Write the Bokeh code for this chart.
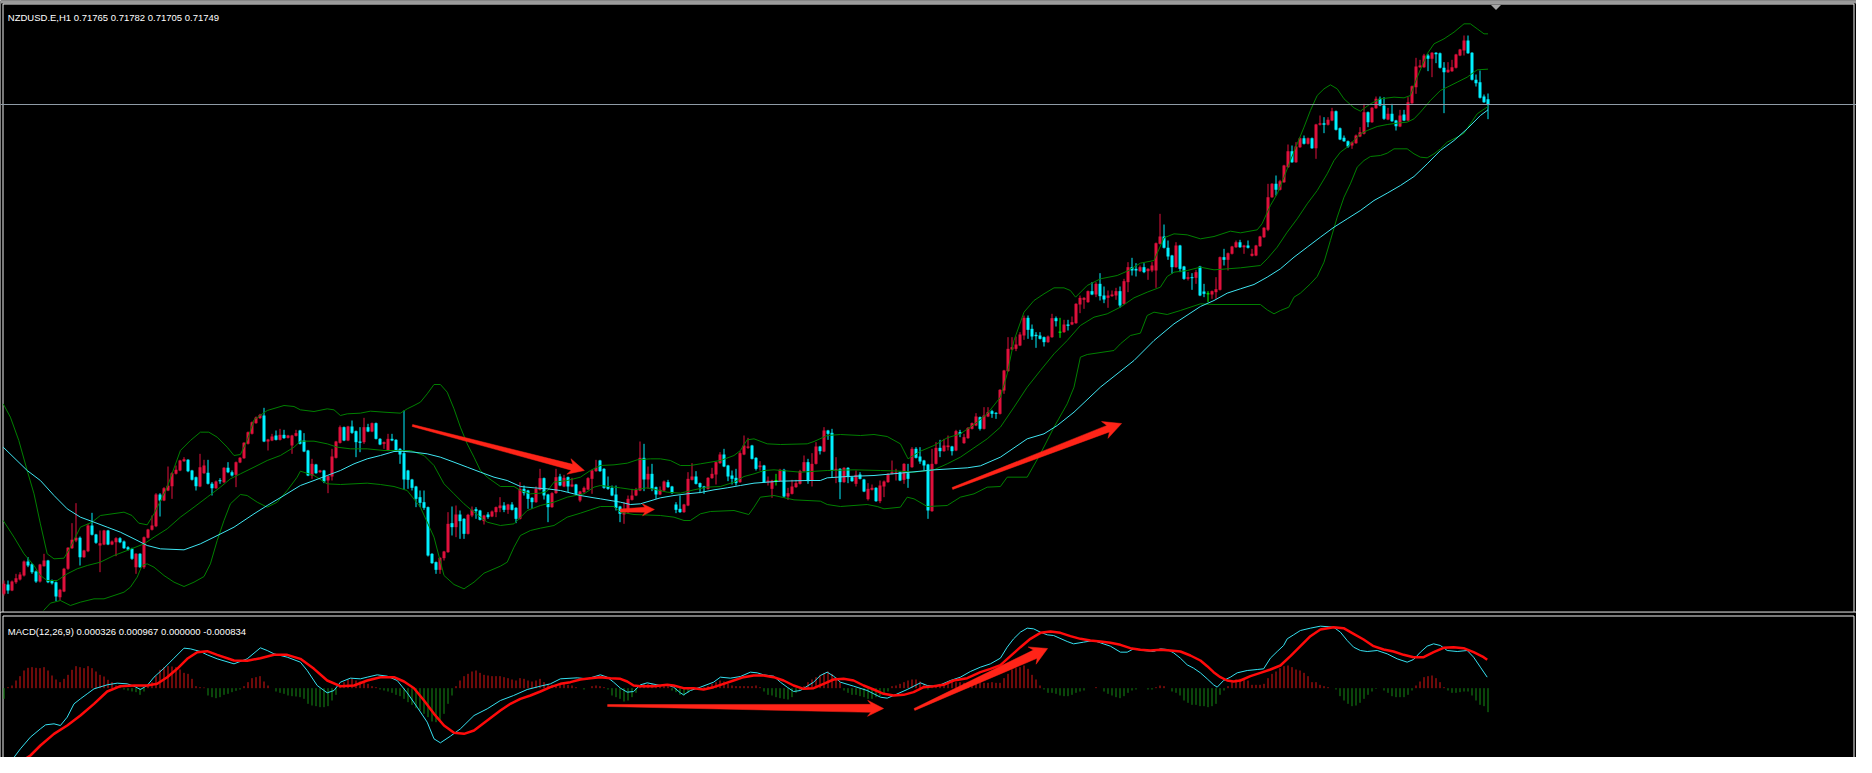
import math
from bokeh.plotting import figure
from bokeh.layouts import column
from bokeh.models import Range1d, Span, Label
from bokeh.embed import file_html
from bokeh.resources import INLINE

# ---------------------------------------------------------------- texts
SYMBOL_LABEL = "NZDUSD.E,H1  0.71765 0.71782 0.71705 0.71749"
MACD_LABEL = "MACD(12,26,9) 0.000326 0.000967 0.000000 -0.000834"

# ---------------------------------------------------------------- candles (prices in points, 1 point = 0.00001)
POINT = 0.00001
open_pts = [
    70281, 70309, 70291, 70316, 70324, 70336, 70378, 70370, 70348, 70318,
    70364, 70381, 70321, 70316, 70271, 70288, 70356, 70418, 70441, 70449,
    70391, 70409, 70486, 70459, 70426, 70429, 70471, 70429, 70436, 70448,
    70438, 70421, 70416, 70361, 70401, 70361, 70449, 70473, 70484, 70579,
    70561, 70591, 70604, 70641, 70651, 70679, 70683, 70651, 70631, 70603,
    70643, 70644, 70611, 70598, 70621, 70616, 70659, 70646, 70638, 70675,
    70688, 70731, 70761, 70793, 70808, 70816, 70738, 70741, 70756, 70743,
    70758, 70749, 70726, 70755, 70771,
    70741, 70711, 70636, 70669, 70646, 70651, 70621, 70633, 70689, 70734,
    70781, 70741, 70783, 70769, 70738, 70736, 70781, 70768, 70793, 70746,
    70731, 70711, 70746, 70743, 70716, 70703, 70651, 70624, 70603, 70571,
    70556, 70541, 70401, 70376, 70353, 70388, 70406, 70493, 70481, 70519,
    70506, 70461, 70516, 70535, 70531, 70499, 70519, 70513, 70526, 70538,
    70546, 70533, 70549, 70539, 70506, 70596, 70591, 70569, 70556, 70593,
    70628, 70579, 70541, 70583, 70633, 70603, 70631, 70603, 70609, 70561,
    70586, 70594, 70626, 70649, 70681,
    70656, 70603, 70599, 70579, 70543, 70519, 70526, 70563, 70576, 70591,
    70689, 70624, 70641, 70601, 70579, 70591, 70616, 70603, 70549, 70536,
    70526, 70546, 70623, 70633, 70613, 70603, 70596, 70628, 70639, 70673,
    70699, 70666, 70636, 70629, 70616, 70699, 70719, 70726, 70689, 70661,
    70666, 70616, 70596, 70621, 70619, 70653, 70573, 70581, 70601, 70611,
    70649, 70676, 70621, 70671, 70723, 70708, 70771, 70764, 70651, 70656,
    70616, 70659, 70631, 70611, 70639, 70624, 70565, 70593, 70599, 70559,
    70603, 70616, 70641, 70641, 70646,
    70623, 70643, 70661, 70716, 70693, 70681, 70669, 70529, 70671, 70719,
    70709, 70721, 70723, 70711, 70766, 70733, 70748, 70776, 70786, 70811,
    70776, 70813, 70829, 70824, 70821, 70891, 70949, 71014, 71016, 71026,
    71056, 71109, 71076, 71058, 71056, 71051, 71036, 71051, 71108, 71066,
    71066, 71089, 71089, 71093, 71149, 71163, 71156, 71189, 71179, 71211,
    71176, 71169, 71174, 71176, 71189, 71151, 71216, 71261, 71256, 71249,
    71261, 71249, 71251, 71251, 71331, 71353, 71319, 71296, 71261, 71326,
    71263, 71226, 71231, 71229, 71263,
    71188, 71181, 71179, 71186, 71193, 71291, 71283, 71301, 71321, 71336,
    71321, 71326, 71295, 71296, 71324, 71351, 71373, 71471, 71511, 71493,
    71516, 71561, 71609, 71576, 71621, 71648, 71631, 71648, 71618, 71688,
    71693, 71688, 71701, 71729, 71678, 71649, 71639, 71626, 71633, 71653,
    71661, 71726, 71696, 71738, 71766, 71746, 71704, 71721, 71701, 71683,
    71719, 71701, 71753, 71801, 71861, 71861, 71896, 71886, 71904, 71903,
    71859, 71846, 71849, 71859, 71896, 71911, 71941, 71904, 71823, 71816,
    71773, 71765,
]
high_pts = [
    70321, 70321, 70321, 70341, 70346, 70381, 70391, 70373, 70351, 70371,
    70401, 70383, 70324, 70318, 70296, 70359, 70421, 70493, 70553, 70453,
    70413, 70491, 70524, 70461, 70471, 70473, 70473, 70441, 70451, 70451,
    70441, 70424, 70419, 70403, 70403, 70453, 70476, 70516, 70583, 70583,
    70601, 70663, 70646, 70666, 70683, 70691, 70685, 70653, 70633, 70701,
    70683, 70683, 70616, 70621, 70628, 70661, 70676, 70651, 70678, 70691,
    70736, 70768, 70798, 70813, 70821, 70839, 70746, 70761, 70771, 70776,
    70773, 70758, 70758, 70773, 70773,
    70763, 70713, 70686, 70671, 70653, 70653, 70636, 70716, 70740, 70786,
    70783, 70785, 70801, 70771, 70781, 70809, 70791, 70795, 70795, 70748,
    70738, 70761, 70761, 70745, 70718, 70831, 70653, 70626, 70605, 70591,
    70591, 70543, 70403, 70378, 70391, 70410, 70526, 70543, 70546, 70531,
    70508, 70521, 70543, 70541, 70533, 70518, 70526, 70531, 70543, 70571,
    70556, 70551, 70556, 70541, 70616, 70606, 70593, 70571, 70603, 70656,
    70630, 70581, 70586, 70656, 70641, 70638, 70633, 70629, 70611, 70590,
    70603, 70631, 70653, 70683, 70683,
    70658, 70633, 70606, 70606, 70545, 70556, 70576, 70596, 70599, 70738,
    70731, 70663, 70671, 70603, 70603, 70621, 70623, 70605, 70556, 70576,
    70551, 70646, 70673, 70649, 70615, 70605, 70631, 70659, 70678, 70706,
    70716, 70668, 70651, 70656, 70709, 70756, 70749, 70728, 70691, 70679,
    70668, 70633, 70623, 70641, 70656, 70656, 70599, 70623, 70623, 70653,
    70696, 70686, 70703, 70736, 70725, 70781, 70773, 70776, 70691, 70658,
    70661, 70661, 70633, 70651, 70646, 70626, 70613, 70609, 70601, 70621,
    70621, 70643, 70681, 70656, 70648,
    70673, 70671, 70721, 70721, 70721, 70683, 70671, 70716, 70736, 70743,
    70746, 70756, 70725, 70773, 70773, 70761, 70781, 70795, 70823, 70813,
    70841, 70841, 70833, 70826, 70895, 70953, 71051, 71051, 71053, 71066,
    71116, 71116, 71089, 71066, 71066, 71053, 71056, 71121, 71113, 71109,
    71103, 71103, 71113, 71153, 71176, 71171, 71191, 71216, 71216, 71243,
    71203, 71191, 71191, 71199, 71203, 71226, 71276, 71289, 71273, 71266,
    71273, 71258, 71276, 71335, 71421, 71389, 71341, 71298, 71336, 71328,
    71265, 71246, 71243, 71253, 71265,
    71211, 71189, 71191, 71231, 71293, 71316, 71305, 71325, 71341, 71343,
    71328, 71341, 71316, 71328, 71355, 71381, 71511, 71513, 71536, 71523,
    71568, 71629, 71626, 71636, 71650, 71656, 71650, 71650, 71691, 71716,
    71711, 71711, 71739, 71731, 71680, 71656, 71641, 71638, 71659, 71681,
    71751, 71728, 71741, 71773, 71773, 71771, 71739, 71751, 71703, 71733,
    71733, 71771, 71806, 71889, 71883, 71901, 71901, 71906, 71906, 71905,
    71876, 71876, 71883, 71901, 71916, 71956, 71956, 71906, 71839, 71851,
    71779, 71782,
]
low_pts = [
    70276, 70281, 70289, 70311, 70321, 70333, 70361, 70341, 70314, 70315,
    70363, 70313, 70309, 70259, 70261, 70286, 70353, 70416, 70436, 70366,
    70389, 70406, 70456, 70431, 70346, 70427, 70427, 70427, 70394, 70433,
    70416, 70411, 70383, 70341, 70359, 70356, 70447, 70471, 70481, 70513,
    70559, 70589, 70566, 70639, 70649, 70677, 70646, 70621, 70591, 70601,
    70641, 70609, 70576, 70596, 70611, 70613, 70643, 70633, 70601, 70673,
    70686, 70729, 70759, 70791, 70806, 70736, 70711, 70739, 70741, 70741,
    70746, 70747, 70701, 70753, 70729,
    70706, 70634, 70626, 70641, 70644, 70613, 70583, 70621, 70687, 70732,
    70739, 70739, 70761, 70691, 70706, 70731, 70766, 70766, 70744, 70727,
    70716, 70709, 70739, 70707, 70671, 70593, 70596, 70591, 70541, 70541,
    70533, 70393, 70371, 70341, 70341, 70381, 70404, 70456, 70451, 70446,
    70446, 70459, 70511, 70506, 70501, 70489, 70506, 70511, 70511, 70526,
    70526, 70521, 70531, 70493, 70504, 70576, 70536, 70536, 70554, 70591,
    70564, 70496, 70539, 70581, 70604, 70601, 70586, 70601, 70579, 70556,
    70584, 70592, 70581, 70647, 70647,
    70596, 70593, 70574, 70531, 70496, 70491, 70524, 70561, 70574, 70589,
    70589, 70596, 70589, 70566, 70577, 70589, 70599, 70581, 70523, 70524,
    70524, 70544, 70621, 70609, 70583, 70581, 70594, 70626, 70609, 70671,
    70661, 70619, 70609, 70606, 70614, 70697, 70716, 70684, 70651, 70651,
    70614, 70606, 70569, 70606, 70617, 70569, 70563, 70579, 70599, 70609,
    70647, 70611, 70603, 70669, 70699, 70706, 70743, 70629, 70613, 70565,
    70614, 70613, 70617, 70603, 70624, 70586, 70561, 70591, 70557, 70553,
    70571, 70614, 70639, 70621, 70619,
    70611, 70599, 70659, 70687, 70671, 70651, 70506, 70527, 70669, 70691,
    70707, 70711, 70696, 70709, 70751, 70731, 70746, 70774, 70784, 70771,
    70774, 70811, 70809, 70806, 70819, 70881, 70947, 71012, 71009, 71024,
    71043, 71046, 71043, 71019, 71044, 71023, 71034, 71049, 71083, 71049,
    71064, 71071, 71087, 71091, 71123, 71136, 71154, 71177, 71171, 71161,
    71153, 71139, 71172, 71163, 71139, 71149, 71186, 71236, 71233, 71247,
    71243, 71223, 71246, 71199, 71329, 71317, 71283, 71241, 71259, 71246,
    71223, 71221, 71193, 71211, 71174,
    71171, 71156, 71166, 71166, 71191, 71266, 71251, 71299, 71319, 71319,
    71301, 71317, 71293, 71294, 71322, 71349, 71369, 71469, 71476, 71491,
    71514, 71559, 71574, 71574, 71619, 71629, 71629, 71616, 71586, 71686,
    71663, 71686, 71699, 71671, 71642, 71637, 71619, 71616, 71631, 71651,
    71659, 71681, 71694, 71736, 71744, 71703, 71702, 71697, 71671, 71681,
    71699, 71699, 71751, 71781, 71859, 71859, 71849, 71831, 71873, 71857,
    71723, 71844, 71847, 71857, 71894, 71896, 71901, 71821, 71803, 71767,
    71754, 71705,
]
close_pts = [
    70311, 70291, 70318, 70328, 70339, 70378, 70366, 70346, 70318, 70369,
    70381, 70316, 70313, 70273, 70293, 70356, 70419, 70443, 70449, 70391,
    70411, 70486, 70458, 70434, 70433, 70471, 70429, 70438, 70448, 70436,
    70418, 70414, 70386, 70401, 70361, 70451, 70474, 70486, 70579, 70561,
    70598, 70605, 70643, 70653, 70681, 70685, 70649, 70623, 70604, 70661,
    70666, 70611, 70598, 70618, 70620, 70659, 70646, 70636, 70676, 70689,
    70734, 70766, 70796, 70810, 70818, 70738, 70744, 70753, 70743, 70758,
    70748, 70756, 70756, 70763, 70731,
    70708, 70636, 70671, 70643, 70651, 70618, 70634, 70693, 70738, 70781,
    70741, 70783, 70764, 70736, 70734, 70781, 70768, 70793, 70746, 70729,
    70736, 70746, 70741, 70709, 70699, 70624, 70623, 70599, 70566, 70554,
    70539, 70396, 70373, 70353, 70389, 70408, 70491, 70481, 70519, 70499,
    70461, 70518, 70533, 70529, 70503, 70516, 70511, 70528, 70541, 70546,
    70533, 70549, 70533, 70506, 70596, 70583, 70566, 70556, 70596, 70628,
    70576, 70541, 70583, 70631, 70606, 70629, 70603, 70609, 70581, 70588,
    70599, 70628, 70651, 70659, 70649,
    70599, 70596, 70576, 70539, 70521, 70526, 70566, 70576, 70593, 70689,
    70624, 70641, 70596, 70579, 70593, 70618, 70601, 70583, 70533, 70526,
    70549, 70626, 70633, 70611, 70601, 70599, 70629, 70641, 70676, 70699,
    70663, 70633, 70626, 70613, 70703, 70726, 70723, 70686, 70656, 70666,
    70616, 70621, 70621, 70621, 70653, 70573, 70583, 70603, 70613, 70649,
    70676, 70619, 70671, 70723, 70709, 70771, 70761, 70651, 70656, 70616,
    70659, 70631, 70619, 70638, 70626, 70588, 70596, 70599, 70559, 70606,
    70618, 70641, 70646, 70645, 70621,
    70671, 70626, 70716, 70689, 70678, 70666, 70531, 70671, 70719, 70709,
    70726, 70726, 70709, 70769, 70761, 70751, 70779, 70793, 70813, 70776,
    70816, 70826, 70821, 70821, 70893, 70951, 71016, 71021, 71029, 71059,
    71109, 71073, 71053, 71054, 71046, 71036, 71053, 71108, 71099, 71066,
    71089, 71085, 71096, 71151, 71169, 71169, 71189, 71179, 71211, 71174,
    71164, 71176, 71179, 71189, 71146, 71219, 71261, 71251, 71251, 71261,
    71246, 71256, 71266, 71333, 71353, 71319, 71293, 71261, 71326, 71256,
    71226, 71231, 71228, 71246, 71176,
    71181, 71181, 71189, 71195, 71291, 71283, 71303, 71323, 71336, 71321,
    71326, 71319, 71301, 71326, 71353, 71379, 71471, 71511, 71493, 71519,
    71566, 71609, 71576, 71623, 71648, 71631, 71648, 71618, 71689, 71693,
    71688, 71703, 71729, 71673, 71644, 71639, 71623, 71636, 71656, 71666,
    71726, 71696, 71739, 71766, 71746, 71706, 71721, 71699, 71684, 71716,
    71701, 71756, 71804, 71863, 71866, 71896, 71886, 71904, 71900, 71859,
    71846, 71853, 71861, 71899, 71914, 71941, 71903, 71823, 71813, 71769,
    71756, 71749,
]

# ---------------------------------------------------------------- Bollinger bands and moving average (bar index, points)
bb_upper = [
    (-0.2, 70851), (1.6, 70811), (3.7, 70741), (5.8, 70651), (7.5, 70581), (9.1, 70491), (10.8, 70401),
    (12.5, 70386), (15.0, 70388), (16.6, 70421), (19.1, 70481), (22.0, 70496), (24.1, 70516), (30.0, 70526),
    (32.0, 70516), (33.7, 70493), (35.8, 70488), (37.5, 70521), (40.8, 70601), (44.1, 70711), (46.6, 70741),
    (49.1, 70766), (51.2, 70766), (53.3, 70751), (55.8, 70721), (57.5, 70696), (59.1, 70699), (60.8, 70741),
    (62.5, 70803), (65.8, 70831), (70.0, 70846), (72.5, 70843),
    (74.1, 70833), (77.5, 70828), (80.8, 70836), (82.5, 70833), (84.1, 70816), (85.8, 70821), (89.1, 70823),
    (91.6, 70829), (95.0, 70826), (99.1, 70823), (100.8, 70836), (102.5, 70846), (104.1, 70856), (105.8, 70881),
    (107.5, 70909), (109.1, 70909), (110.8, 70886), (112.5, 70836), (114.1, 70781), (115.8, 70731), (117.5, 70691),
    (119.1, 70651), (120.8, 70631), (124.1, 70603), (127.5, 70603), (129.1, 70591), (131.6, 70581), (134.1, 70583),
    (135.8, 70589), (137.5, 70616), (140.8, 70621), (144.1, 70631), (146.6, 70651),
    (149.1, 70666), (152.5, 70668), (155.8, 70673), (158.3, 70683), (161.6, 70686), (164.1, 70686), (166.6, 70681),
    (169.1, 70666), (171.6, 70666), (174.1, 70671), (179.1, 70681), (182.5, 70696), (184.1, 70711), (185.8, 70743),
    (187.5, 70746), (190.8, 70731), (194.1, 70729), (200.8, 70731), (202.5, 70738), (205.8, 70756), (209.1, 70759),
    (214.1, 70756), (217.5, 70759), (220.8, 70753),
    (224.1, 70731), (226.0, 70686), (229.1, 70709), (232.5, 70726), (235.8, 70749), (239.1, 70761), (242.5, 70789),
    (245.8, 70821), (249.1, 70871), (250.8, 70941), (252.5, 71041), (255.0, 71126), (257.5, 71161), (260.0, 71181),
    (262.5, 71199), (265.0, 71199), (266.6, 71191), (267.9, 71171), (270.8, 71206), (274.1, 71226), (278.3, 71236),
    (280.8, 71249), (284.1, 71273), (287.5, 71281), (290.0, 71349), (292.5, 71361), (295.8, 71358),
    (299.1, 71346), (302.5, 71353), (306.6, 71369), (309.1, 71364), (313.3, 71373), (314.5, 71391), (316.6, 71446),
    (318.3, 71481), (320.0, 71531), (321.6, 71581), (323.3, 71631), (325.0, 71681), (326.6, 71731), (328.3, 71776),
    (330.0, 71796), (331.6, 71808), (333.3, 71796), (335.0, 71766), (337.5, 71739), (339.1, 71729), (341.6, 71751),
    (344.1, 71766), (347.5, 71771), (350.0, 71769), (351.6, 71776), (353.3, 71831), (355.8, 71901), (357.5, 71931),
    (360.0, 71946), (362.5, 71966), (365.0, 71991), (366.6, 71991), (368.3, 71976), (370.0, 71961), (371.0, 71961),
]
bb_middle = [
    (-0.2, 70501), (2.5, 70451), (5.0, 70401), (7.5, 70366), (9.1, 70336), (10.8, 70321), (13.3, 70321),
    (15.8, 70341), (18.3, 70356), (20.8, 70366), (24.1, 70376), (27.5, 70396), (30.8, 70411), (35.0, 70431),
    (37.5, 70451), (40.8, 70476), (44.1, 70511), (47.5, 70541), (50.8, 70571), (54.1, 70601), (56.6, 70626),
    (59.1, 70641), (62.5, 70661), (65.8, 70681), (69.1, 70696), (72.5, 70721),
    (74.1, 70739), (77.5, 70739), (80.8, 70731), (83.3, 70721), (86.6, 70716), (90.8, 70716), (95.0, 70711),
    (101.6, 70711), (105.0, 70696), (107.5, 70666), (110.0, 70611), (112.5, 70581), (115.0, 70551), (117.5, 70526),
    (120.8, 70496), (124.1, 70486), (127.5, 70491), (130.8, 70531), (134.1, 70546), (137.5, 70556), (140.8, 70571),
    (145.0, 70581), (147.5, 70601),
    (149.1, 70606), (154.1, 70599), (157.5, 70593), (160.8, 70599), (165.8, 70586), (169.1, 70583), (172.5, 70593),
    (175.8, 70601), (179.1, 70603), (182.5, 70616), (185.0, 70633), (187.5, 70641), (190.0, 70651), (192.5, 70653),
    (199.1, 70646), (205.8, 70651), (212.5, 70653), (219.1, 70651),
    (224.1, 70649), (227.5, 70646), (232.5, 70653), (235.8, 70671), (239.1, 70691), (242.5, 70719), (245.8, 70746),
    (249.1, 70781), (252.5, 70841), (255.8, 70901), (259.1, 70951), (262.5, 71001), (265.8, 71041), (269.1, 71086),
    (272.5, 71111), (275.8, 71121), (279.1, 71141), (282.5, 71169), (285.8, 71186), (289.1, 71201), (290.8, 71233),
    (292.5, 71246), (295.8, 71251),
    (299.1, 71261), (302.5, 71253), (309.1, 71259), (314.1, 71266), (315.8, 71286), (318.3, 71321), (320.8, 71366),
    (323.3, 71406), (325.8, 71451), (328.3, 71491), (330.8, 71541), (332.5, 71581), (334.1, 71606), (335.8, 71621),
    (337.5, 71641), (339.1, 71661), (340.8, 71671), (343.3, 71683), (345.8, 71689), (348.3, 71693), (350.8, 71696),
    (352.5, 71706), (354.1, 71726), (356.6, 71761), (359.1, 71791), (360.8, 71801), (363.3, 71816), (365.8, 71831),
    (368.3, 71853), (371.0, 71855),
]
bb_lower = [
    (9.9, 70231), (11.6, 70253), (14.1, 70261), (16.6, 70246), (19.1, 70256), (22.5, 70266), (25.0, 70266),
    (27.5, 70276), (30.0, 70286), (31.6, 70301), (33.3, 70331), (34.5, 70366), (35.8, 70371), (37.5, 70361),
    (40.0, 70336), (42.5, 70316), (45.0, 70303), (47.5, 70316), (50.0, 70333), (51.6, 70371), (53.3, 70441),
    (55.0, 70501), (56.6, 70551), (59.1, 70579), (60.8, 70576), (63.3, 70556), (65.8, 70541), (68.3, 70556),
    (70.8, 70591), (73.3, 70631),
    (74.1, 70649), (77.5, 70636), (80.8, 70611), (84.1, 70609), (90.8, 70613), (94.1, 70609), (97.5, 70603),
    (100.8, 70591), (104.1, 70541), (107.5, 70451), (110.0, 70336), (112.5, 70309), (115.0, 70296), (117.5, 70316),
    (120.0, 70343), (124.1, 70364), (125.8, 70376), (127.5, 70421), (129.1, 70456), (131.6, 70471), (134.1, 70478),
    (137.5, 70486), (140.8, 70511), (144.1, 70523), (146.6, 70533),
    (149.1, 70543), (152.5, 70543), (154.1, 70526), (157.5, 70519), (164.1, 70516), (167.5, 70511), (170.0, 70501),
    (171.6, 70501), (174.1, 70521), (176.6, 70528), (182.5, 70531), (186.2, 70519), (187.5, 70541), (189.1, 70571),
    (192.5, 70576), (197.5, 70563), (204.1, 70559), (205.8, 70549), (209.1, 70543), (215.8, 70549), (218.3, 70543),
    (220.0, 70536),
    (224.1, 70541), (225.8, 70571), (227.5, 70566), (230.8, 70543), (235.8, 70546), (239.1, 70571), (242.5, 70581),
    (245.8, 70601), (249.1, 70603), (250.8, 70631), (255.8, 70631), (259.1, 70701), (262.5, 70781), (265.8, 70851),
    (267.5, 70901), (269.1, 70991), (270.8, 70999), (277.5, 71011), (279.1, 71031), (281.6, 71056), (284.1, 71063),
    (285.8, 71116), (287.5, 71126), (290.8, 71119), (294.1, 71131),
    (299.1, 71151), (302.5, 71149), (314.1, 71149), (315.8, 71133), (317.5, 71121), (319.1, 71131), (321.2, 71141),
    (322.5, 71171), (324.1, 71183), (326.6, 71211), (328.3, 71233), (330.0, 71276), (331.6, 71341), (333.3, 71411),
    (335.0, 71471), (336.6, 71511), (338.3, 71561), (340.0, 71581), (341.6, 71593), (344.1, 71596), (345.8, 71603),
    (347.5, 71616), (350.8, 71616), (352.5, 71601), (354.1, 71591), (355.8, 71589), (357.5, 71601), (359.1, 71616),
    (360.8, 71636), (363.3, 71651), (365.0, 71663), (366.6, 71691), (368.3, 71721), (371.0, 71743),
]
ma_line = [
    (-0.2, 70721), (5.8, 70651), (9.1, 70621), (12.5, 70576), (15.8, 70536), (19.1, 70511), (22.5, 70496),
    (25.8, 70481), (29.1, 70466), (32.5, 70446), (35.8, 70426), (39.1, 70416), (45.0, 70413), (49.1, 70431),
    (52.5, 70451), (57.5, 70481), (62.5, 70521), (65.8, 70546), (70.0, 70576),
    (74.1, 70606), (77.5, 70621), (80.8, 70636), (84.1, 70651), (87.5, 70671), (90.8, 70686), (94.1, 70696),
    (97.5, 70708), (99.1, 70709), (102.5, 70706), (105.8, 70701), (109.1, 70691), (112.5, 70676), (115.8, 70661),
    (119.1, 70646), (122.5, 70631), (125.8, 70621), (129.1, 70603), (132.5, 70599), (135.8, 70596), (139.1, 70591),
    (140.8, 70586), (144.1, 70576), (147.5, 70569),
    (149.1, 70566), (154.1, 70556), (156.6, 70549), (159.1, 70551), (164.1, 70569), (167.5, 70576), (170.8, 70581),
    (174.1, 70585), (177.5, 70593), (180.8, 70599), (184.1, 70606), (187.5, 70613), (190.8, 70616), (194.1, 70619),
    (200.8, 70621), (204.1, 70621), (205.8, 70629), (210.8, 70633), (217.5, 70636),
    (224.1, 70643), (232.5, 70653), (240.8, 70659), (244.1, 70665), (249.1, 70691), (255.8, 70746), (260.0, 70761),
    (263.3, 70786), (267.5, 70826), (274.1, 70901), (282.5, 70981), (287.5, 71041), (292.5, 71091),
    (299.1, 71143), (302.5, 71161), (305.8, 71183), (309.1, 71196), (312.5, 71209), (315.8, 71231), (319.1, 71256),
    (322.5, 71291), (325.8, 71321), (329.1, 71351), (332.5, 71381), (335.8, 71406), (339.1, 71431), (342.5, 71461),
    (345.8, 71483), (349.1, 71506), (352.5, 71533), (355.8, 71571), (359.1, 71611), (362.5, 71641), (365.8, 71676),
    (369.1, 71716), (371.0, 71733),
]

# ---------------------------------------------------------------- MACD (values in units of 0.00001)
MACD_UNIT = 0.00001
macd_hist = [
    -32, 3, 8, 23, 36, 53, 61, 63, 61, 60,
    63, 53, 38, 26, 18, 28, 40, 55, 66, 63,
    60, 66, 60, 50, 40, 35, 25, 18, 8, 6,
    -4, -7, -10, -12, -20, -10, 6, 18, 36, 55,
    63, 66, 65, 63, 56, 46, 43, 28, 6, 3,
    2, -22, -27, -30, -27, -20, -17, -12, -8, -4,
    6, 18, 30, 33, 36, 20, 8, 0, -10, -14,
    -17, -22, -24, -25, -27, -32, -47, -52, -54, -57,
    -57, -54, -37, -20, 8, 18, 26, 28, 23, 20,
    18, 13, 6, 3, -4, -7, -10, -14, -20, -24,
    -32, -42, -50, -60, -67, -77, -87, -100, -102, -97,
    -77, -47, -22, 6, 23, 36, 43, 50, 53, 46,
    40, 38, 36, 36, 36,
    33, 30, 26, 23, 30, 28, 23, 20, 23, 28,
    18, 13, 10, 10, 13, 13, 10, 8, 3, 0,
    -4, 0, 6, 8, 6, 3, -4, -22, -27, -32,
    -40, -37, -27, -14, 8, 13, 13, 13, 8, 6,
    6, 6, -7, -12, -20, -22, -14, -7, 0, 0,
    3, 6, 13, 18, 23, 20, 13, 8, 6, 6,
    6, 6, 6, 8, 3, -10, -20, -22, -27, -30,
    -32, -34, -27, -14, -7, 6, 18, 26, 33, 40,
    46, 50, 43, 33, 18, -7, -14, -20, -20, -24,
    -27, -32, -32, -27, -24, -20, -10, 6, 8, 13,
    18, 23, 26, 26, 20, 13, -4, 6, 8, 13,
    16, 18, 20, 18, 18, 16, 18, 18, 18, 18,
    16, 16, 18, 16, 16,
    30, 43, 56, 60, 63, 68, 58, 40, 26, 8,
    -4, -14, -14, -17, -22, -24, -24, -20, -14, -10,
    -7, 0, 0, 3, 0, -10, -17, -22, -27, -30,
    -24, -14, -7, -4, 0, 0, -4, -4, 3, 8,
    6, 0, -10, -14, -22, -37, -44, -50, -50, -54,
    -54, -57, -54, -47, -20, -7, 6, 18, 26, 28,
    28, 23, 10, 10, 10, 13, 30, 43, 50, 60,
    66, 68, 63, 56, 53, 46, 36, 18, 18, 10,
    6, 3, 0, -4, -24, -37, -47, -54, -52, -44,
    -32, -20, -10, -2, 0, -7, -14, -24, -27, -27,
    -27, -20, -7, 8, 20, 33, 36, 38, 30, 18,
    3, -7, -14, -14, -12, -10, -10, -22, -37, -50,
    -54, -72,
]
macd_main = [
    (-0.2, -237), (1.6, -222), (4.1, -182), (6.6, -147), (9.1, -122), (10.4, -110), (12.5, -107), (14.1, -112),
    (15.8, -87), (17.5, -47), (19.1, -32), (20.8, -17), (22.5, -2), (25.8, 10), (28.3, 15), (30.8, 13),
    (32.5, 6), (34.1, -4), (35.8, 8), (37.5, 33), (40.0, 60), (42.5, 90), (45.0, 120), (46.6, 118),
    (49.1, 110), (50.8, 100), (53.3, 88), (57.5, 73), (60.8, 88), (64.1, 121), (65.8, 113), (67.5, 103),
    (70.8, 93), (74.1, 78), (75.8, 53), (78.3, 8), (80.8, -14), (82.5, -7), (84.1, 18), (86.6, 30),
    (89.1, 28), (90.8, 33), (93.3, 40), (95.8, 36), (98.3, 23), (100.8, -14), (103.3, -57), (105.8, -102),
    (107.5, -152), (109.1, -164), (111.6, -144), (114.1, -122), (117.5, -82), (120.8, -62), (124.1, -37),
    (127.4, -22), (130.8, -4), (134.1, 6), (136.6, 13), (139.1, 28), (143.3, 31), (145.8, 28), (149.1, 40),
    (150.8, 33), (152.4, 18), (154.1, 0), (155.8, -12), (157.4, -10), (159.1, 10), (160.8, 16), (164.1, 8),
    (165.8, 10), (167.4, 3), (169.1, -14), (169.9, -20), (171.6, -7), (174.1, 3), (177.4, 18), (179.1, 33),
    (181.6, 30), (184.1, 35), (186.6, 48), (188.3, 46), (189.9, 40), (192.4, 36), (194.1, 18), (195.8, 3),
    (197.4, -10), (199.1, -7), (200.8, 6), (202.4, 18), (204.1, 38), (205.8, 48), (207.4, 36), (209.1, 18),
    (212.4, 6), (215.8, -7), (219.1, -27), (220.8, -30), (222.4, -22), (225.8, -4), (229.1, 16), (230.8, 8),
    (232.4, 6), (234.1, 10), (236.6, 23), (239.1, 33), (241.6, 50), (244.1, 63), (246.6, 73),
    (249.1, 90), (250.8, 123), (252.4, 148), (254.1, 168), (255.8, 180), (257.4, 178), (259.1, 168), (260.8, 160),
    (262.4, 158), (265.8, 140), (267.4, 133), (269.9, 138), (272.4, 143), (274.1, 136), (276.6, 126), (279.1, 108),
    (280.8, 108), (282.4, 118), (284.9, 113), (287.4, 110), (289.1, 118), (290.8, 116), (292.4, 106), (294.1, 90),
    (295.8, 70), (297.4, 60), (299.1, 46), (300.8, 28), (302.4, 10), (303.3, 3), (304.9, 23), (306.6, 33),
    (308.3, 46), (310.8, 53), (313.3, 56), (314.9, 58), (316.6, 90), (318.3, 110), (319.9, 128), (320.8, 148),
    (322.4, 160), (324.1, 173), (326.6, 180), (329.1, 186), (332.4, 183), (334.1, 168), (335.8, 143), (337.4, 123),
    (339.1, 113), (340.8, 110), (343.3, 113), (345.8, 103), (348.3, 88), (350.8, 78), (352.4, 86), (354.1, 108),
    (355.8, 126), (357.4, 133), (359.1, 128), (360.8, 113), (363.3, 110), (365.8, 113), (367.4, 93), (369.1, 63),
    (370.8, 33),
]
macd_signal = [
    (-0.2, -210), (1.6, -225), (4.1, -222), (6.6, -202), (9.1, -172), (12.5, -137), (15.8, -112), (19.1, -82),
    (22.5, -47), (25.8, -10), (29.1, 6), (32.5, 8), (35.8, 8), (38.3, 13), (40.8, 33), (43.3, 58),
    (45.8, 88), (48.3, 108), (50.8, 111), (53.3, 100), (57.5, 83), (60.8, 82), (64.1, 90), (67.5, 100),
    (70.8, 100), (74.1, 88), (77.5, 58), (80.8, 23), (84.1, 6), (87.5, 8), (90.8, 23), (94.1, 33),
    (97.5, 33), (100.0, 20), (102.5, 0), (105.0, -37), (107.5, -77), (110.0, -112), (112.5, -134), (115.0, -137),
    (117.5, -127), (120.8, -97), (124.1, -67),
    (126.6, -47), (129.1, -32), (131.6, -22), (134.1, -10), (136.6, 3), (139.1, 13), (141.6, 18), (144.1, 26),
    (146.6, 30), (149.1, 33), (151.6, 30), (154.1, 28), (155.8, 20), (157.4, 8), (159.1, 6), (162.4, 6),
    (165.8, 10), (167.4, 8), (169.9, 0), (172.4, 0), (174.9, -4), (177.4, 3), (179.9, 13), (182.4, 23),
    (184.9, 33), (187.4, 38), (189.9, 38), (192.4, 33), (194.9, 23), (197.4, 8), (199.9, -2), (202.4, 0),
    (204.9, 13), (207.4, 26), (209.9, 28), (212.4, 23), (214.9, 8), (217.4, -4), (219.9, -17), (222.4, -22),
    (224.9, -20), (227.4, -12), (229.9, 3), (232.4, 6), (234.9, 10), (237.4, 23), (240.8, 30), (244.1, 48),
    (246.6, 58),
    (249.1, 69), (251.6, 96), (254.1, 123), (256.6, 148), (259.1, 166), (261.6, 170), (264.1, 166), (266.6, 156),
    (269.1, 148), (271.6, 143), (274.1, 140), (276.6, 136), (279.1, 130), (281.6, 120), (284.1, 115), (286.6, 113),
    (289.1, 115), (291.6, 113), (294.1, 110), (296.6, 98), (299.1, 83), (300.8, 66), (302.4, 48), (304.1, 33),
    (305.8, 23), (307.4, 20), (309.1, 23), (311.6, 36), (314.1, 46), (316.6, 56), (319.1, 68), (321.6, 96),
    (324.1, 126), (326.6, 156), (329.1, 176), (332.4, 183), (334.9, 180), (337.4, 163), (339.9, 146), (342.4, 126),
    (344.9, 116), (347.4, 110), (349.9, 100), (352.4, 93), (354.9, 93), (357.4, 108), (359.9, 121), (362.4, 123),
    (364.9, 120), (367.4, 108), (369.9, 93), (370.8, 85),
]

# ---------------------------------------------------------------- hand-drawn arrows: (tail, tip) in (bar index, value)
arrows_price = [
    ((102.1, 0.70786), (145.1, 0.70651)),
    ((154.1, 0.70531), (162.6, 0.70534)),
    ((237.1, 0.70597), (279.4, 0.70792)),
]
arrows_macd = [
    ((150.9, -0.00052), (219.9, -0.00061)),
    ((227.6, -0.00064), (260.9, 0.00119)),
]

# ================================================================= layout / scales
W = 1856
H_MAIN = 612
H_MACD = 145
BAR_PX = 4.0
X_START = -3.5 / BAR_PX
X_END = X_START + W / BAR_PX
PRICE_PX = 0.00003
P_TOP = 0.72061
P_BOT = P_TOP - H_MAIN * PRICE_PX
M_PX = 0.00003
M_TOP = 0.00227
M_BOT = M_TOP - H_MACD * M_PX

BULL = "#e0103c"
BEAR = "#00f0ff"
DOJI = "#00ff00"
BAND = "#008000"
MA_COL = "#3fe6f2"
ARROW = "#ff2418"
FRAME = "#f0f0f0"


def xpx(px):
    return X_START + px / BAR_PX


def ppx(py):
    return P_TOP - py * PRICE_PX


def mpx(py):
    return M_TOP - py * M_PX


def base_fig(h, y0, y1):
    f = figure(width=W, height=h, x_range=Range1d(X_START, X_END), y_range=Range1d(y0, y1),
               output_backend="svg", toolbar_location=None, min_border=0,
               x_axis_location=None, y_axis_location=None,
               background_fill_color="black", border_fill_color="black",
               outline_line_color=None)
    f.grid.grid_line_color = None
    return f


# ---------------------------------------------------------------- main price panel
p = base_fig(H_MAIN, P_BOT, P_TOP)

n = min(len(open_pts), len(high_pts), len(low_pts), len(close_pts))
xs, hi, lo, top, bot, cols = [], [], [], [], [], []
for i in range(n):
    o = open_pts[i] * POINT
    c = close_pts[i] * POINT
    h = max(high_pts[i] * POINT, o, c)
    l = min(low_pts[i] * POINT, o, c)
    if c > o:
        col = BULL
    elif c < o:
        col = BEAR
    else:
        col = DOJI
    t, b = max(o, c), min(o, c)
    if t - b < PRICE_PX:
        m = (t + b) / 2
        t, b = m + PRICE_PX / 2, m - PRICE_PX / 2
    xs.append(i); hi.append(h); lo.append(l); top.append(t); bot.append(b); cols.append(col)

# frame decorations
p.quad(left=[X_START], right=[X_END], top=[ppx(0)], bottom=[ppx(3)], fill_color="#9a9a9a", line_color=None)
p.segment(x0=[xpx(2.5), xpx(2.5), xpx(1853.5)], y0=[ppx(3.5), ppx(3.5), ppx(3.5)],
          x1=[xpx(1853.5), xpx(2.5), xpx(1853.5)], y1=[ppx(3.5), ppx(612), ppx(612)],
          line_color=FRAME, line_width=1)
p.segment(x0=[xpx(0)], y0=[ppx(611.5)], x1=[X_END], y1=[ppx(611.5)], line_color="#d8d8d8", line_width=1)

# bid line (last close)
p.add_layout(Span(location=close_pts[n - 1] * POINT, dimension="width", line_color="#8f9ba6", line_width=1))

# candles
p.segment(x0=xs, y0=lo, x1=xs, y1=hi, line_color=cols, line_width=1)
p.vbar(x=xs, width=0.75, top=top, bottom=bot, fill_color=cols, line_color=None)

# indicators
for series, colr in ((bb_upper, BAND), (bb_middle, BAND), (bb_lower, BAND), (ma_line, MA_COL)):
    p.line(x=[a for a, _ in series], y=[v * POINT for _, v in series], line_color=colr, line_width=1)

# chart shift marker
p.patch(x=[xpx(1490.5), xpx(1500.5), xpx(1495.5)], y=[ppx(4.5), ppx(4.5), ppx(9.5)],
        fill_color="#a6a6a6", line_color=None)


def arrow_poly(tail, tip, to_px, from_px, tail_w, shaft_w, head_w, head_len):
    ax, ay = to_px(*tail)
    bx, by = to_px(*tip)
    dx, dy = bx - ax, by - ay
    L = math.hypot(dx, dy)
    ux, uy = dx / L, dy / L
    nx, ny = -uy, ux
    nkx, nky = bx - ux * head_len * 0.8, by - uy * head_len * 0.8
    bsx, bsy = bx - ux * head_len, by - uy * head_len
    pts = [
        (ax + nx * tail_w / 2, ay + ny * tail_w / 2),
        (nkx + nx * shaft_w / 2, nky + ny * shaft_w / 2),
        (bsx + nx * head_w / 2, bsy + ny * head_w / 2),
        (bx, by),
        (bsx - nx * head_w / 2, bsy - ny * head_w / 2),
        (nkx - nx * shaft_w / 2, nky - ny * shaft_w / 2),
        (ax - nx * tail_w / 2, ay - ny * tail_w / 2),
    ]
    out = [from_px(px, py) for px, py in pts]
    return [q[0] for q in out], [q[1] for q in out]


def main_to_px(x, y):
    return (x - X_START) * BAR_PX, (P_TOP - y) / PRICE_PX


def main_from_px(px, py):
    return xpx(px), ppx(py)


def macd_to_px(x, y):
    return (x - X_START) * BAR_PX, (M_TOP - y) / M_PX


def macd_from_px(px, py):
    return xpx(px), mpx(py)


arrow_styles_price = [(2, 6, 16, 16), (3, 5, 12, 12), (2, 7, 18, 18)]
axs, ays = [], []
for (tail, tip), st in zip(arrows_price, arrow_styles_price):
    ax_, ay_ = arrow_poly(tail, tip, main_to_px, main_from_px, *st)
    axs.append(ax_); ays.append(ay_)
p.patches(xs=axs, ys=ays, fill_color=ARROW, line_color=ARROW, line_width=0.5)

p.add_layout(Label(x=xpx(7.3), y=ppx(16.7), text=SYMBOL_LABEL, text_color="#ffffff",
                   text_font="Liberation Sans", text_font_size="9.5px", text_baseline="alphabetic"))

# ---------------------------------------------------------------- MACD panel
q = base_fig(H_MACD, M_BOT, M_TOP)
q.segment(x0=[xpx(2.5), xpx(2.5), xpx(1853.5)], y0=[mpx(3.5), mpx(3.5), mpx(3.5)],
          x1=[xpx(1853.5), xpx(2.5), xpx(1853.5)], y1=[mpx(3.5), mpx(H_MACD), mpx(H_MACD)],
          line_color=FRAME, line_width=1)

hx, hy, hc = [], [], []
for i, v in enumerate(macd_hist[:n]):
    if v == 0:
        continue
    hx.append(i); hy.append(v * MACD_UNIT); hc.append("#dd1515" if v > 0 else "#148c14")
q.segment(x0=hx, y0=[0.0] * len(hx), x1=hx, y1=hy, line_color=hc, line_width=1)

q.line(x=[a for a, _ in macd_main], y=[v * MACD_UNIT for _, v in macd_main], line_color="#35e0f0", line_width=1)
q.line(x=[a for a, _ in macd_signal], y=[v * MACD_UNIT for _, v in macd_signal], line_color="#ff0a0a",
       line_width=2.5)

arrow_styles_macd = [(2, 8, 16, 16), (2, 9, 19, 17)]
mxs, mys = [], []
for (tail, tip), st in zip(arrows_macd, arrow_styles_macd):
    ax_, ay_ = arrow_poly(tail, tip, macd_to_px, macd_from_px, *st)
    mxs.append(ax_); mys.append(ay_)
q.patches(xs=mxs, ys=mys, fill_color=ARROW, line_color=ARROW, line_width=0.5)

q.add_layout(Label(x=xpx(7.3), y=mpx(19), text=MACD_LABEL, text_color="#ffffff",
                   text_font="Liberation Sans", text_font_size="9.5px", text_baseline="alphabetic"))

layout = column(p, q, spacing=0)
open("out.html", "w").write(file_html(layout, INLINE))
